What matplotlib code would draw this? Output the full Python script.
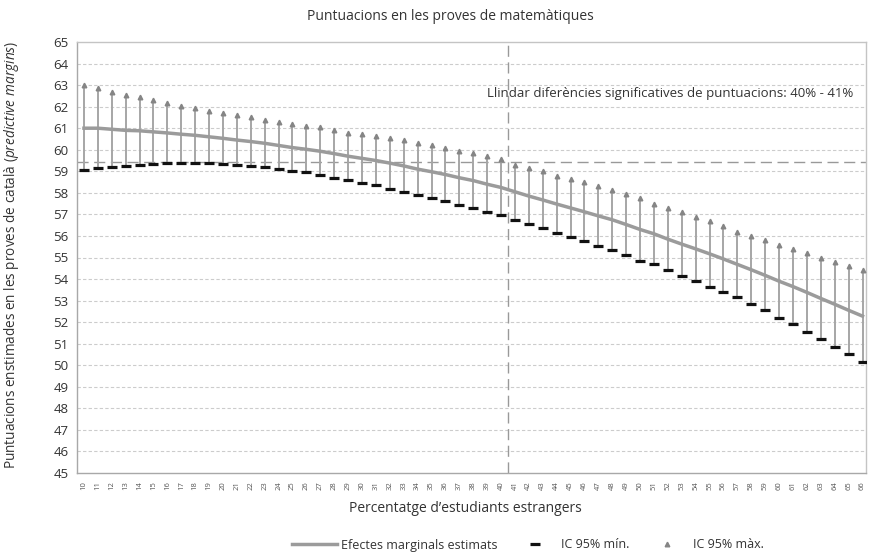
import matplotlib.pyplot as plt
import numpy as np

plt.rcParams['font.family'] = ['Open Sans', 'DejaVu Sans']
plt.rcParams['mathtext.fontset'] = 'custom'
plt.rcParams['mathtext.it'] = 'Open Sans:italic'
plt.rcParams['mathtext.rm'] = 'Open Sans'

pct = list(range(10, 67))

ic_max = [63.0, 62.85, 62.7, 62.55, 62.45, 62.3, 62.15, 62.05, 61.95, 61.8,
          61.7, 61.6, 61.5, 61.4, 61.3, 61.2, 61.1, 61.05, 60.9, 60.8,
          60.75, 60.65, 60.55, 60.45, 60.3, 60.2, 60.1, 59.95, 59.85, 59.7,
          59.55, 59.3, 59.15, 59.0, 58.8, 58.65, 58.5, 58.3, 58.15, 57.95,
          57.75, 57.5, 57.3, 57.1, 56.9, 56.7, 56.45, 56.2, 56.0, 55.8,
          55.6, 55.4, 55.2, 55.0, 54.8, 54.6, 54.4]

ic_min = [59.05, 59.15, 59.2, 59.25, 59.3, 59.35, 59.4, 59.4, 59.4, 59.4,
          59.35, 59.3, 59.25, 59.2, 59.1, 59.0, 58.95, 58.85, 58.7, 58.6,
          58.45, 58.35, 58.2, 58.05, 57.9, 57.75, 57.6, 57.45, 57.3, 57.1,
          56.95, 56.75, 56.55, 56.35, 56.15, 55.95, 55.75, 55.55, 55.35, 55.1,
          54.85, 54.7, 54.4, 54.15, 53.9, 53.65, 53.4, 53.15, 52.85, 52.55,
          52.2, 51.9, 51.55, 51.2, 50.85, 50.5, 50.15]

efectes = [61.0, 61.0, 60.95, 60.9, 60.88, 60.83, 60.78, 60.72, 60.67, 60.6,
           60.53, 60.45, 60.38, 60.3, 60.2, 60.1, 60.02, 59.93, 59.82, 59.7,
           59.6, 59.5, 59.38, 59.25, 59.1, 58.98, 58.85, 58.7, 58.57, 58.4,
           58.25, 58.05, 57.85, 57.67, 57.48, 57.3, 57.12, 56.93, 56.75, 56.53,
           56.3, 56.1, 55.85, 55.62, 55.4, 55.17, 54.93, 54.68, 54.43, 54.17,
           53.9, 53.65, 53.38, 53.1, 52.83, 52.55, 52.28]

llindar_x = 40.5
llindar_y = 59.45

fig = plt.figure(figsize=(8.7, 5.55), dpi=100)
ax = fig.add_axes([77/870, 1 - 473/555, (866 - 77)/870, (473 - 42)/555])

ax.set_ylim(45, 65)
ax.set_xlim(9.5, 66.25)
ax.set_yticks(range(45, 66))
ax.set_xticks(pct)
ax.set_xticklabels([str(p) for p in pct], rotation=90, fontsize=5.5, color='#555555')
ax.tick_params(axis='y', labelsize=9.5, length=0, pad=6, colors='#333333')
ax.tick_params(axis='x', length=0, pad=6)

for s in ax.spines.values():
    s.set_color('#c4c4c4')
    s.set_linewidth(1.0)
ax.spines['left'].set_color('#a8a8a8')
ax.spines['bottom'].set_color('#a8a8a8')

# grid
for v in range(46, 65):
    ax.axhline(v, color='#cccccc', linewidth=0.8, linestyle=(0, (3, 2)), zorder=0)

ax.axhline(llindar_y, color='#999999', linewidth=1.0, linestyle=(0, (8, 4)), zorder=1)
ax.axvline(llindar_x, color='#999999', linewidth=1.0, linestyle=(0, (8, 4)), zorder=1)

ax.vlines(pct, ic_min, ic_max, color='#a6a6a6', linewidth=1.4, zorder=2)
ax.plot(pct, efectes, color='#9b9b9b', linewidth=2.5, zorder=3,
        label='Efectes marginals estimats')
ax.plot(pct, ic_min, linestyle='none', marker='_', markersize=7, mew=2.3,
        color='#111111', zorder=4, label='IC 95% mín.')
ax.plot(pct, ic_max, linestyle='none', marker='^', markersize=3.3,
        color='#858585', zorder=4, label='IC 95% màx.')

ax.text(65.3, 62.6, 'Llindar diferències significatives de puntuacions: 40% - 41%',
        ha='right', va='center', fontsize=9.5, color='#333333')

fig.text(450/870, 1 - 16/555, 'Puntuacions en les proves de matemàtiques',
         ha='center', va='center', fontsize=10, color='#333333')
fig.text(465/870, 1 - 508/555, 'Percentatge d\u2019estudiants estrangers',
         ha='center', va='center', fontsize=10, color='#333333')
fig.text(12/870, 1 - 255/555,
         'Puntuacions enstimades en les proves de català ($\\it{predictive\\ margins}$)',
         ha='center', va='center', rotation=90, fontsize=9.8, color='#333333')

leg = fig.legend(loc='center', bbox_to_anchor=(528/870, 1 - 545/555), ncol=3,
                 frameon=False, fontsize=9, handlelength=3.6, columnspacing=1.2,
                 handletextpad=0.3)
for t in leg.get_texts():
    t.set_color('#333333')

fig.savefig('out.png', dpi=100)
